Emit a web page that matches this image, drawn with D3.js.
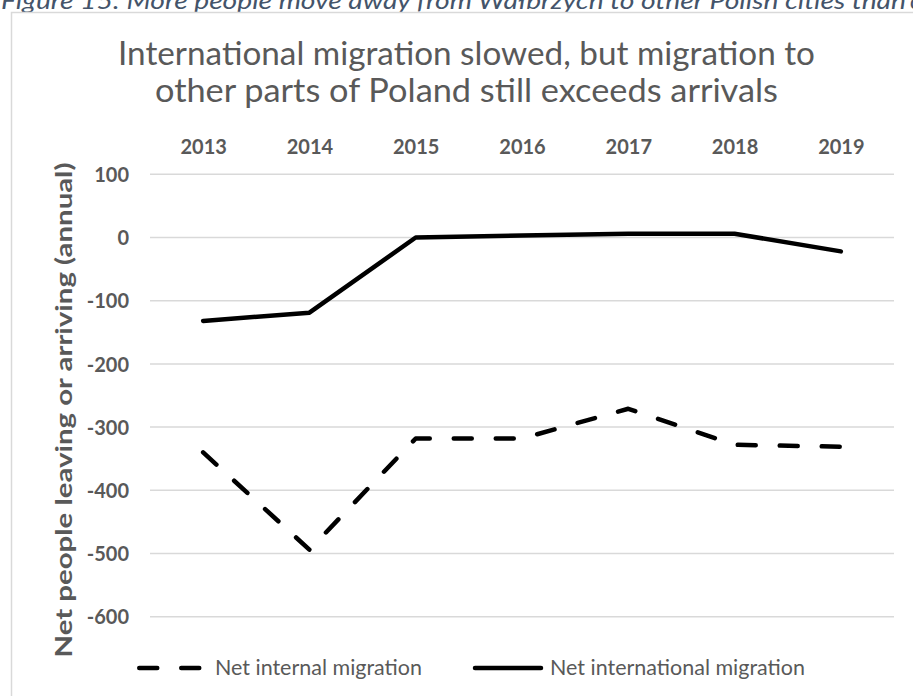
<!DOCTYPE html>
<html>
<head>
<meta charset="utf-8">
<script src="https://cdn.jsdelivr.net/npm/d3@7"></script>
<style>
  html, body { margin: 0; padding: 0; background: #fff; overflow: hidden; }
  svg { display: block; }
</style>
</head>
<body>
<script>
// ---- data ----
const years = ["2013", "2014", "2015", "2016", "2017", "2018", "2019"];
const internalMigration = [-340, -494, -318, -318, -271, -328, -331];
const internationalMigration = [-132, -119, 0, 3, 6, 6, -22];
const yTicks = [100, 0, -100, -200, -300, -400, -500, -600];
const seriesNames = ["Net internal migration", "Net international migration"];
const captionText = "Figure 15: More people move away from Wałbrzych to other Polish cities than";
const titleLines = ["International migration slowed, but migration to", "other parts of Poland still exceeds arrivals"];
const yAxisTitle = "Net people leaving or arriving (annual)";

const W = 913, H = 696;
const grey = "#595959";
const font = "Lato, 'Open Sans', sans-serif";

const svg = d3.select("body").append("svg").attr("width", W).attr("height", H);

// caption (clipped at top of page, as in the source)
svg.append("text")
  .attr("x", 1).attr("y", 9)
  .attr("font-family", font).attr("font-style", "italic")
  .attr("font-size", 24).attr("fill", "#44546A")
  .attr("textLength", 905).attr("lengthAdjust", "spacingAndGlyphs")
  .text(captionText);
svg.append("text")
  .attr("x", 910).attr("y", 9)
  .attr("font-family", font).attr("font-style", "italic")
  .attr("font-size", 24).attr("fill", "#44546A")
  .text("come");

// chart frame
svg.append("rect")
  .attr("x", 11.5).attr("y", 12.5).attr("width", 1000).attr("height", 1000)
  .attr("fill", "#fff").attr("stroke", "#d9d9d9").attr("stroke-width", 1.5);

// title
const titleWidths = [697, 623];
const titleBase = [65, 102];
titleLines.forEach((t, i) => {
  svg.append("text")
    .attr("x", 466.5).attr("y", titleBase[i])
    .attr("text-anchor", "middle")
    .attr("font-family", font).attr("font-size", 32).attr("fill", grey)
    .attr("textLength", titleWidths[i]).attr("lengthAdjust", "spacingAndGlyphs")
    .text(t);
});

// scales
const x = d3.scalePoint().domain(years).range([150, 894]).padding(0.5);
const y = d3.scaleLinear().domain([-600, 100]).range([616.7, 174.3]);

// gridlines
svg.append("g").selectAll("line").data(yTicks).join("line")
  .attr("x1", 150).attr("x2", 894)
  .attr("y1", d => y(d)).attr("y2", d => y(d))
  .attr("stroke", "#d9d9d9").attr("stroke-width", 1.5);

// y axis labels
const yAxis = d3.axisLeft(y).tickValues(yTicks).tickSize(0).tickPadding(0).tickFormat(d => String(d));
const yg = svg.append("g").attr("transform", "translate(129,0)").call(yAxis);
yg.select(".domain").remove();
yg.selectAll("text")
  .attr("font-family", font).attr("font-weight", "bold").attr("font-size", 20)
  .attr("fill", grey).attr("dy", "0.36em");

// x axis labels (top)
const xAxis = d3.axisTop(x).tickSize(0).tickPadding(0);
const xg = svg.append("g").attr("transform", "translate(0,154)").call(xAxis);
xg.select(".domain").remove();
xg.selectAll("text")
  .attr("font-family", font).attr("font-weight", "bold").attr("font-size", 20)
  .attr("fill", grey).attr("dy", 0);

// y axis title
svg.append("text")
  .attr("transform", "translate(72,410) rotate(-90)")
  .attr("text-anchor", "middle")
  .attr("font-family", font).attr("font-weight", "bold").attr("font-size", 22)
  .attr("fill", grey)
  .attr("textLength", 495).attr("lengthAdjust", "spacingAndGlyphs")
  .text(yAxisTitle);

// lines
const line = d3.line().x((d, i) => x(years[i])).y(d => y(d));
svg.append("path").datum(internalMigration)
  .attr("d", line).attr("fill", "none").attr("stroke", "#000")
  .attr("stroke-width", 4.5).attr("stroke-dasharray", "18,24")
  .attr("stroke-linecap", "round").attr("stroke-linejoin", "round");
svg.append("path").datum(internationalMigration)
  .attr("d", line).attr("fill", "none").attr("stroke", "#000")
  .attr("stroke-width", 4.5)
  .attr("stroke-linecap", "round").attr("stroke-linejoin", "round");

// legend
const legY = 668;
const leg = [
  {name: seriesNames[0], x1: 139.25, x2: 200.75, dash: "18,24", tx: 215, tw: 207},
  {name: seriesNames[1], x1: 475, x2: 541, dash: null, tx: 550, tw: 255}
];
leg.forEach(l => {
  svg.append("line")
    .attr("x1", l.x1).attr("x2", l.x2).attr("y1", legY).attr("y2", legY)
    .attr("stroke", "#000").attr("stroke-width", 4.5)
    .attr("stroke-linecap", "round")
    .attr("stroke-dasharray", l.dash);
  svg.append("text")
    .attr("x", l.tx).attr("y", 675)
    .attr("font-family", font).attr("font-size", 21).attr("fill", grey)
    .attr("textLength", l.tw).attr("lengthAdjust", "spacingAndGlyphs")
    .text(l.name);
});
</script>
</body>
</html>
